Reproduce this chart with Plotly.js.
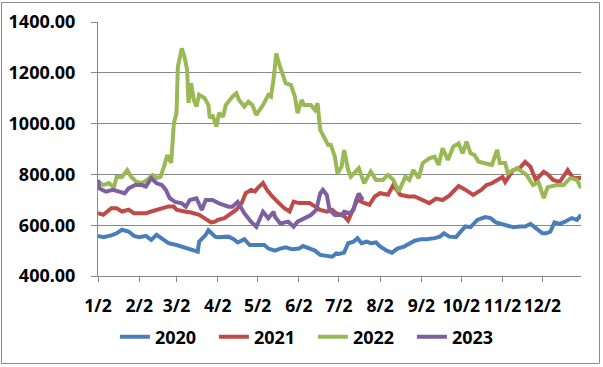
<!DOCTYPE html>
<html>
<head>
<meta charset="utf-8">
<script src="https://cdn.plot.ly/plotly-3.0.1.min.js"></script>
<style>
html,body{margin:0;padding:0;background:#fff;}
#chart{width:603px;height:367px;}
</style>
</head>
<body>
<div id="chart"></div>
<script>
// Day-of-year positions (Jan 2 = 2) and values
var days2020 = [2,6,12,16,20,25,29,33,38,42,46,51,55,61,67,72,77,78,83,85,90,92,96,100,104,107,112,116,122,127,130,135,139,143,148,153,156,161,165,169,174,178,181,183,187,190,194,197,200,204,207,211,214,219,223,227,232,236,240,245,249,255,259,262,266,271,275,278,282,287,293,297,301,305,310,314,319,323,327,332,336,339,342,345,349,353,358,362,365];
var vals2020 = [558,553,560,568,582,575,558,553,558,542,562,542,529,522,513,505,496,535,562,580,555,553,555,555,545,532,545,522,522,522,508,500,508,513,505,508,518,508,500,483,479,476,489,487,492,529,535,549,529,535,529,532,516,500,492,508,516,529,539,545,545,549,555,568,555,553,580,595,592,621,632,628,611,605,601,592,595,595,605,582,568,568,575,611,605,614,628,621,641];

var days2021 = [2,6,12,16,20,25,29,33,38,42,46,51,55,59,61,67,72,78,84,87,90,92,97,101,106,110,113,117,120,122,126,129,133,138,142,146,149,153,156,161,165,169,174,178,181,184,187,190,194,197,201,206,210,214,220,224,229,235,240,245,251,256,261,266,273,278,284,290,294,298,302,306,308,314,319,323,327,331,337,340,344,349,355,359,365];
var vals2021 = [647,641,667,667,654,661,647,647,647,654,661,667,674,674,661,654,650,641,621,611,614,621,628,641,661,687,726,739,733,746,766,739,713,687,667,654,693,687,687,687,674,660,653,661,647,640,636,618,660,700,690,680,713,726,720,759,720,713,713,700,687,705,699,716,754,740,719,739,758,765,778,790,770,817,825,849,830,778,810,800,778,770,817,786,786];

var days2022 = [2,6,10,14,16,20,24,27,31,35,39,43,46,49,52,54,57,58,59,61,62,65,67,69,70,72,74,76,78,82,85,86,88,91,93,96,98,103,106,108,112,115,118,121,126,130,132,134,136,138,141,143,147,150,152,155,157,162,165,167,169,172,175,177,180,182,185,187,190,192,198,202,207,211,216,220,224,228,233,236,239,243,246,251,255,258,261,265,269,273,276,279,282,285,288,293,298,302,304,308,310,317,324,329,333,337,340,347,352,357,362,365];
var vals2022 = [772,758,766,750,790,790,817,790,770,766,778,797,786,790,837,876,845,935,1000,1042,1224,1296,1263,1211,1081,1159,1093,1067,1113,1101,1073,1022,1034,988,1042,1027,1073,1106,1119,1093,1067,1086,1073,1034,1073,1113,1106,1178,1276,1237,1185,1159,1152,1106,1041,1093,1073,1073,1054,1080,975,942,916,916,870,804,830,896,817,791,824,765,811,778,778,798,778,732,791,778,817,785,844,863,870,837,903,857,909,922,883,929,883,876,850,844,837,896,845,845,805,825,798,758,770,707,750,758,758,786,778,746];

var days2023 = [2,3,8,13,18,22,25,30,35,38,42,46,50,53,56,60,65,68,71,76,80,83,88,93,100,103,107,112,117,121,126,130,134,135,139,145,149,152,157,162,166,169,171,174,176,180,185,187,191,194,196,198,201];
var vals2023 = [779,745,732,739,732,725,745,758,758,752,785,765,758,739,706,692,686,673,699,706,660,699,699,686,673,673,692,647,614,594,653,627,653,633,607,614,594,614,627,640,660,725,739,719,660,640,640,653,647,660,699,725,699];

var seriesNames = ["2020","2021","2022","2023"];
var seriesColors = ["#4a7ebb","#be4b48","#98b954","#7d60a0"];
var tickDays = [2,33,61,92,122,153,183,214,245,275,306,336];
var tickLabels = ["1/2","2/2","3/2","4/2","5/2","6/2","7/2","8/2","9/2","10/2","11/2","12/2"];
var yTicks = [400,600,800,1000,1200,1400];

var allDays = [days2020, days2021, days2022, days2023];
var allVals = [vals2020, vals2021, vals2022, vals2023];

var traces = seriesNames.map(function(n, i){
  return {
    x: allDays[i], y: allVals[i], name: n, type: 'scatter', mode: 'lines',
    line: {color: seriesColors[i], width: 4},
    hoverinfo: 'skip'
  };
});

var fontFam = '"Noto Sans", "Open Sans", sans-serif';
var layout = {
  width: 603, height: 367,
  margin: {l: 98, r: 22, t: 22, b: 91},
  paper_bgcolor: '#ffffff', plot_bgcolor: '#ffffff',
  showlegend: true,
  font: {family: fontFam, size: 18, color: '#000', weight: 'bold'},
  xaxis: {
    type: 'linear', range: [2, 365], fixedrange: true,
    tickmode: 'array', tickvals: tickDays, ticktext: tickLabels,
    tickangle: 0,
    showgrid: false, zeroline: false,
    showline: true, linecolor: '#888888', linewidth: 1,
    ticks: 'outside', ticklen: 5, tickcolor: '#888888',
    ticklabelstandoff: 9,
    tickfont: {family: fontFam, size: 17.5, color: '#000', weight: 'bold'}
  },
  yaxis: {
    range: [400, 1400], fixedrange: true,
    tickmode: 'array', tickvals: yTicks, tickformat: '.2f',
    showgrid: true, gridcolor: '#888888', gridwidth: 1,
    zeroline: false,
    showline: true, linecolor: '#888888', linewidth: 1,
    ticks: 'outside', ticklen: 6, tickcolor: '#888888',
    ticklabelstandoff: 12,
    tickfont: {family: fontFam, size: 18, color: '#000', weight: 'bold'}
  },
  legend: {
    orientation: 'h', x: 0.035, xanchor: 'left', y: -0.24, yanchor: 'middle',
    font: {family: fontFam, size: 18, color: '#000', weight: 'bold'},
    bgcolor: 'rgba(0,0,0,0)', borderwidth: 0,
    entrywidth: 54, entrywidthmode: 'pixels', itemclick: false, itemdoubleclick: false
  },
  shapes: [{
    type: 'rect', xref: 'paper', yref: 'paper',
    x0: (1.5 - 98) / 483, x1: (599.5 - 98) / 483,
    y0: (276 - 363.5) / 254, y1: (276 - 2.5) / 254,
    line: {color: '#8c8c8c', width: 1}, fillcolor: 'rgba(0,0,0,0)', layer: 'below'
  }]
};

Plotly.newPlot('chart', traces, layout, {staticPlot: true, displayModeBar: false});
</script>
</body>
</html>
